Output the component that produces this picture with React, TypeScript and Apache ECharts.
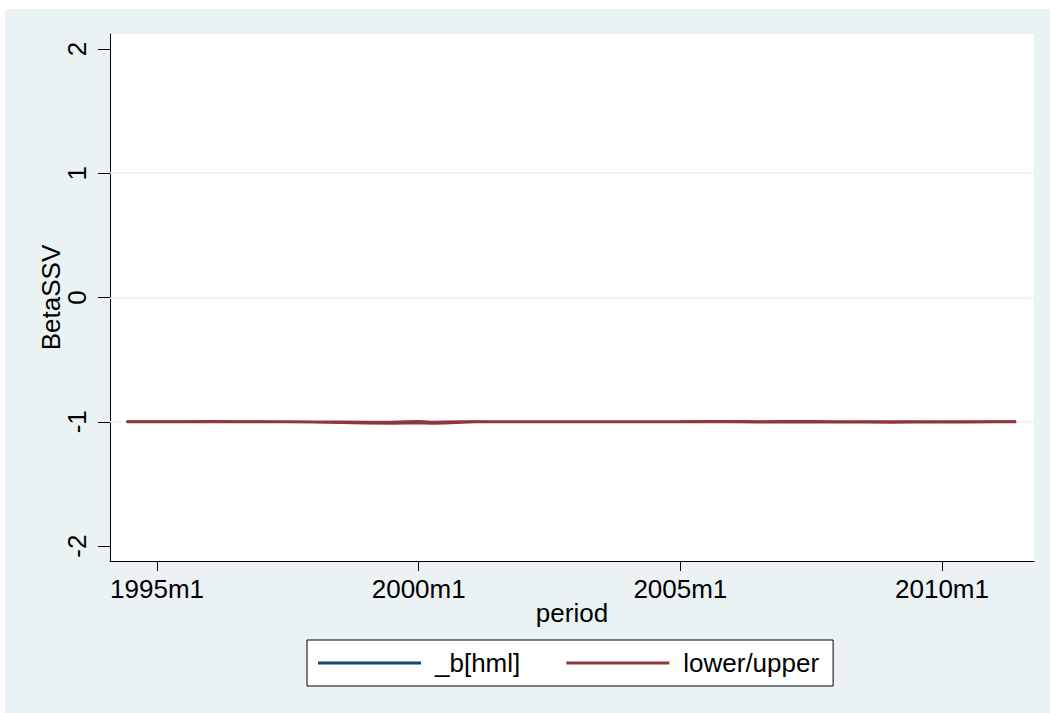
import React, { useEffect, useRef } from "react";
import * as echarts from "echarts";

// Stata monthly dates (months since 1960m1)
const periods = [413, 420, 426, 432, 438, 444, 450, 456, 462, 468, 474, 477, 480, 483, 486, 490, 493, 498, 504, 510, 516, 522, 528, 534, 540, 546, 552, 558, 564, 570, 576, 582, 588, 594, 600, 606, 612, 617];
const betaHml = [-1.0, -1.0, -1.0, -0.998, -1.0, -1.0, -1.0, -1.002, -1.004, -1.006, -1.008, -1.006, -1.004, -1.008, -1.006, -1.002, -1.0, -1.0, -1.0, -1.0, -1.0, -1.0, -1.0, -1.0, -1.0, -0.999, -0.998, -1.0, -1.0, -0.999, -1.001, -1.0, -1.001, -1.0, -1.001, -1.0, -1.0, -1.0];
const lowerCI = [-1.002, -1.002, -1.002, -1.0, -1.002, -1.002, -1.002, -1.004, -1.008, -1.012, -1.014, -1.012, -1.01, -1.014, -1.012, -1.006, -1.002, -1.001, -1.001, -1.001, -1.001, -1.001, -1.001, -1.001, -1.002, -1.002, -1.001, -1.003, -1.004, -1.002, -1.004, -1.003, -1.005, -1.004, -1.004, -1.003, -1.002, -1.002];
const upperCI = [-0.998, -0.998, -0.998, -0.995, -0.998, -0.998, -0.999, -1.0, -1.0, -1.002, -1.002, -0.998, -0.996, -1.002, -1.0, -0.998, -0.998, -0.999, -0.999, -0.999, -0.999, -0.999, -0.999, -0.999, -0.998, -0.996, -0.995, -0.997, -0.996, -0.996, -0.998, -0.997, -0.997, -0.997, -0.998, -0.997, -0.998, -0.998];

const xTicks = [420, 480, 540, 600];
const yTicks = [-2, -1, 0, 1, 2];
const gridLines = [1, 0, -1];

const FONT = "'Liberation Sans', Arial, sans-serif";
const NAVY = "#1a476f";
const MAROON = "#90353b";
const BG = "#eaf2f3";

const fmtMonth = (v: number) => `${1960 + Math.floor(v / 12)}m${(v % 12) + 1}`;

export default function App() {
  const ref = useRef<HTMLDivElement>(null);
  useEffect(() => {
    if (!ref.current) return;
    const chart = echarts.init(ref.current, null, { renderer: "svg" });
    const pair = (vals: number[]) => periods.map((p, i) => [p, vals[i]]);
    chart.setOption({
      animation: false,
      graphic: [
        {
          type: "rect",
          z: -10,
          silent: true,
          shape: { x: 5, y: 9, width: 1045, height: 704 },
          style: { fill: BG },
        },
      ],
      grid: {
        left: 110,
        top: 34,
        right: 16,
        bottom: 152,
        show: true,
        backgroundColor: "#ffffff",
        borderWidth: 0,
      },
      legend: {
        left: 307,
        top: 640,
        backgroundColor: "#ffffff",
        borderColor: "#000000",
        borderWidth: 1,
        borderRadius: 0,
        padding: [10, 14, 10, 11],
        itemWidth: 103,
        itemHeight: 3,
        itemGap: 46,
        icon: "rect",
        textStyle: {
          fontFamily: FONT,
          fontSize: 26,
          color: "#000",
          padding: [0, 0, 0, 9],
        },
        data: ["_b[hml]", "lower/upper"],
      },
      xAxis: {
        type: "value",
        min: 409.2,
        max: 621.1,
        name: "period",
        nameLocation: "middle",
        nameGap: 39,
        nameMoveOverlap: false,
        nameTextStyle: { fontFamily: FONT, fontSize: 26, color: "#000" },
        axisLine: { show: true, onZero: false, lineStyle: { color: "#000", width: 1 } },
        axisTick: { show: true, length: 10, customValues: xTicks, lineStyle: { color: "#000" } },
        axisLabel: {
          customValues: xTicks,
          formatter: (v: number) => fmtMonth(v),
          fontFamily: FONT,
          fontSize: 26,
          color: "#000",
          margin: 15,
        },
        splitLine: { show: false },
      },
      yAxis: {
        type: "value",
        min: -2.12,
        max: 2.12,
        name: "BetaSSV",
        nameLocation: "middle",
        nameGap: 46,
        nameMoveOverlap: false,
        nameRotate: 90,
        nameTextStyle: { fontFamily: FONT, fontSize: 26, color: "#000" },
        axisLine: { show: true, onZero: false, lineStyle: { color: "#000", width: 1 } },
        axisTick: { show: true, length: 12, customValues: yTicks, lineStyle: { color: "#000" } },
        axisLabel: {
          customValues: yTicks,
          rotate: 90,
          fontFamily: FONT,
          fontSize: 26,
          color: "#000",
          margin: 20,
        },
        splitLine: { show: false },
      },
      series: [
        {
          name: "_b[hml]",
          type: "line",
          data: pair(betaHml),
          showSymbol: false,
          symbol: "none",
          color: NAVY,
          lineStyle: { color: NAVY, width: 2 },
          z: 3,
          markLine: {
            silent: true,
            z: 1,
            symbol: ["none", "none"],
            label: { show: false },
            lineStyle: { color: BG, type: "solid", width: 1.5 },
            data: gridLines.map((y) => ({ yAxis: y })),
          },
        },
        {
          name: "lower/upper",
          type: "line",
          data: pair(lowerCI),
          showSymbol: false,
          symbol: "none",
          color: MAROON,
          lineStyle: { color: MAROON, width: 2.5 },
          z: 4,
        },
        {
          name: "lower/upper",
          type: "line",
          data: pair(upperCI),
          showSymbol: false,
          symbol: "none",
          color: MAROON,
          lineStyle: { color: MAROON, width: 2.5 },
          z: 4,
        },
      ],
    });
    return () => chart.dispose();
  }, []);
  return (
    <div
      ref={ref}
      style={{ position: "absolute", left: 0, top: 0, width: 1050, height: 713 }}
    />
  );
}
